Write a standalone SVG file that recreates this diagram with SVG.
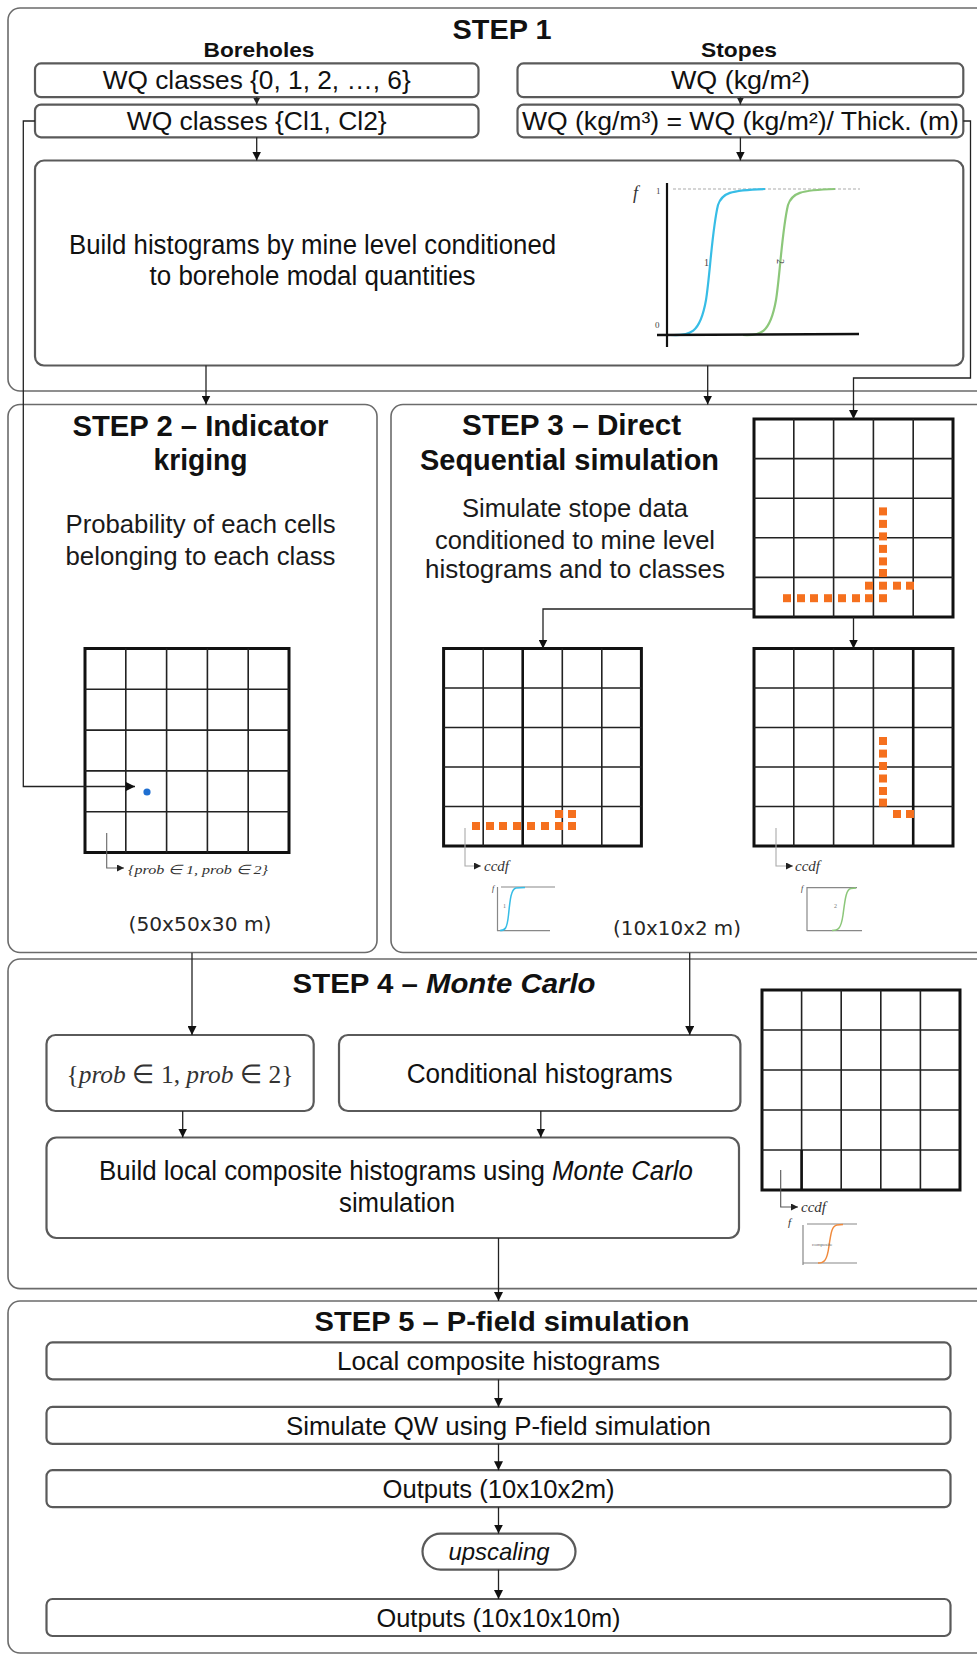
<svg xmlns="http://www.w3.org/2000/svg" width="977" height="1657" viewBox="0 0 977 1657">
<defs>
<marker id="ah" viewBox="0 0 10 10" refX="10" refY="5" markerWidth="9" markerHeight="9" markerUnits="userSpaceOnUse" orient="auto"><path d="M0,0 L10,5 L0,10 z" fill="#111"/></marker>
<marker id="ahs" viewBox="0 0 10 10" refX="10" refY="5" markerWidth="7" markerHeight="7" markerUnits="userSpaceOnUse" orient="auto"><path d="M0,0 L10,5 L0,10 z" fill="#222"/></marker>
</defs>
<style>
.outer{fill:none;stroke:#6b6b6b;stroke-width:1.6}
.box{fill:#fff;stroke:#5a5a5a;stroke-width:2.2}
.con{fill:none;stroke:#222;stroke-width:1.3}
.n{font-family:"Liberation Sans Narrow","Liberation Sans",Arial,sans-serif;fill:#111;text-anchor:middle}
.ns{font-family:"Liberation Sans Narrow","Liberation Sans",Arial,sans-serif;fill:#111;text-anchor:start}
.nb{font-family:"Liberation Sans Narrow","Liberation Sans",Arial,sans-serif;font-weight:bold;fill:#111;text-anchor:middle}
.nbs{font-family:"Liberation Sans Narrow","Liberation Sans",Arial,sans-serif;font-weight:bold;fill:#111;text-anchor:start}
.r{font-family:"Liberation Sans",Arial,sans-serif;fill:#1a1a1a;text-anchor:middle}
.rb{font-family:"Liberation Sans",Arial,sans-serif;font-weight:bold;fill:#111;text-anchor:middle}
.sm{font-family:"Liberation Serif","Times New Roman",serif;font-style:italic;fill:#333}
.gridO{fill:#fff;stroke:#111;stroke-width:3}
.gridI{fill:none;stroke:#222;stroke-width:1.6}
.o{fill:#f5701e}
.ax{fill:none;stroke:#888;stroke-width:1.2}
.dim{font-family:"DejaVu Sans",Verdana,sans-serif;fill:#262626;text-anchor:middle}
</style>
<rect width="977" height="1657" fill="#fff"/>

<!-- containers -->
<g id="step1">
<rect class="outer" x="8" y="8" width="1000" height="383" rx="12"/>
<text class="nb" x="502" y="39" font-size="28" textLength="99" lengthAdjust="spacingAndGlyphs">STEP 1</text>
<text class="nb" x="259" y="57" font-size="21" textLength="111" lengthAdjust="spacingAndGlyphs">Boreholes</text>
<text class="nb" x="739" y="57" font-size="21" textLength="76" lengthAdjust="spacingAndGlyphs">Stopes</text>
</g>
<g id="step2">
<rect class="outer" x="8" y="404.5" width="369" height="548" rx="12"/>
<text class="rb" x="200.5" y="436" font-size="29" textLength="256" lengthAdjust="spacingAndGlyphs">STEP 2 – Indicator</text>
<text class="rb" x="200.5" y="470" font-size="29" textLength="94" lengthAdjust="spacingAndGlyphs">kriging</text>
<text class="r" x="200.5" y="533" font-size="26" textLength="270" lengthAdjust="spacingAndGlyphs">Probability of each cells</text>
<text class="r" x="200.5" y="565" font-size="26" textLength="270" lengthAdjust="spacingAndGlyphs">belonging to each class</text>
<text class="dim" x="200" y="931" font-size="20" textLength="143" lengthAdjust="spacingAndGlyphs">(50x50x30 m)</text>
</g>
<g id="step3">
<rect class="outer" x="391" y="404.5" width="620" height="548" rx="12"/>
<text class="rb" x="571.6" y="435" font-size="29" textLength="219" lengthAdjust="spacingAndGlyphs">STEP 3 – Direct</text>
<text class="rb" x="569.5" y="470" font-size="29" textLength="299" lengthAdjust="spacingAndGlyphs">Sequential simulation</text>
<text class="r" x="575" y="517" font-size="26" textLength="226" lengthAdjust="spacingAndGlyphs">Simulate stope data</text>
<text class="r" x="575" y="549" font-size="26" textLength="280" lengthAdjust="spacingAndGlyphs">conditioned to mine level</text>
<text class="r" x="575" y="578" font-size="26" textLength="300" lengthAdjust="spacingAndGlyphs">histograms and to classes</text>
<text class="dim" x="677" y="935" font-size="20" textLength="128" lengthAdjust="spacingAndGlyphs">(10x10x2 m)</text>
</g>
<g id="step4">
<rect class="outer" x="8" y="959" width="1000" height="329.6" rx="12"/>
<text class="nbs" x="292.5" y="993" font-size="28" textLength="125.5" lengthAdjust="spacingAndGlyphs">STEP 4 –</text>
<text class="nbs" x="426" y="993" font-size="28" font-style="italic" textLength="169.5" lengthAdjust="spacingAndGlyphs">Monte Carlo</text>
</g>
<g id="step5">
<rect class="outer" x="8" y="1301" width="1000" height="352" rx="12"/>
<text class="nb" x="502" y="1331" font-size="28" textLength="375" lengthAdjust="spacingAndGlyphs">STEP 5 – P-field simulation</text>
</g>

<!-- step 1 nodes -->
<g id="wq-classes-06">
<rect class="box" x="35" y="63.4" width="443.5" height="33.8" rx="6"/>
<text class="n" x="256.7" y="89.3" font-size="25" textLength="308" lengthAdjust="spacingAndGlyphs">WQ classes {0, 1, 2, …, 6}</text>
</g>
<g id="wq-classes-cl">
<rect class="box" x="35" y="104.6" width="443.5" height="32.7" rx="6"/>
<text class="n" x="256.7" y="130" font-size="25" textLength="260" lengthAdjust="spacingAndGlyphs">WQ classes {Cl1, Cl2}</text>
</g>
<g id="wq-kgm2">
<rect class="box" x="517.5" y="63.4" width="445.8" height="33.8" rx="6"/>
<text class="n" x="740.4" y="89.3" font-size="25" textLength="139" lengthAdjust="spacingAndGlyphs">WQ (kg/m²)</text>
</g>
<g id="wq-kgm3">
<rect class="box" x="517.5" y="104.6" width="445.8" height="32.7" rx="6"/>
<text class="n" x="740.4" y="130" font-size="25" textLength="437" lengthAdjust="spacingAndGlyphs">WQ (kg/m³) = WQ (kg/m²)/ Thick. (m)</text>
</g>
<g id="build-histograms">
<rect class="box" x="35" y="160.5" width="928.3" height="205" rx="9"/>
<text class="n" x="312.6" y="253.5" font-size="27" textLength="487" lengthAdjust="spacingAndGlyphs">Build histograms by mine level conditioned</text>
<text class="n" x="312.6" y="285" font-size="27" textLength="326" lengthAdjust="spacingAndGlyphs">to borehole modal quantities</text>
<line x1="673" y1="189" x2="860" y2="189" stroke="#c8c8c8" stroke-width="1.5" stroke-dasharray="3 2"/>
<path d="M670,335 C690,336 700,334 706,300 C710,275 712,230 718,205 C722,193 730,190 765,189" fill="none" stroke="#37bde6" stroke-width="2.2"/>
<path d="M743,335 C760,336 770,334 776,300 C780,275 782,230 788,205 C792,193 800,190 835,189" fill="none" stroke="#8cc77a" stroke-width="2.2"/>
<line x1="667" y1="183" x2="667" y2="347" stroke="#111" stroke-width="2.2"/>
<line x1="657" y1="335" x2="859" y2="334" stroke="#111" stroke-width="2.6"/>
<text class="sm" x="633" y="199" font-size="18" fill="#222">f</text>
<text x="656" y="194" font-family="Liberation Serif,serif" font-size="9" fill="#444">1</text>
<text x="655" y="328" font-family="Liberation Serif,serif" font-size="9" fill="#444">0</text>
<text x="704" y="266" font-family="Liberation Serif,serif" font-size="10" fill="#444">1</text>
<text x="774" y="262" font-family="Liberation Serif,serif" font-size="10" fill="#444" transform="rotate(90 777 262)">2</text>
</g>

<!-- step 2 grid -->
<g id="ik-grid">
<rect class="gridO" x="85" y="648.5" width="204" height="204"/>
<path class="gridI" d="M125.8,648.5V852.5M166.6,648.5V852.5M207.4,648.5V852.5M248.2,648.5V852.5M85,689.3H289M85,730.1H289M85,770.9H289M85,811.7H289"/>
<circle cx="147" cy="792" r="3.6" fill="#1f6fd1"/>
<path d="M106.7,833 V868 H124" fill="none" stroke="#666" stroke-width="1.1" marker-end="url(#ahs)"/>
<text class="sm" x="128" y="874" font-size="13" fill="#555" textLength="140" lengthAdjust="spacingAndGlyphs">{prob ∈ 1, prob ∈ 2}</text>
</g>

<!-- step 3 grids -->
<g id="dss-grid-stopes">
<rect class="gridO" x="754" y="419" width="199" height="198"/>
<path class="gridI" d="M793.8,419V617M833.6,419V617M873.4,419V617M913.2,419V617M754,458.6H953M754,498.2H953M754,537.8H953M754,577.4H953"/>
<g class="o">
<rect x="879" y="507.4" width="8" height="8"/><rect x="879" y="519.9" width="8" height="8"/><rect x="879" y="532.4" width="8" height="8"/><rect x="879" y="544.9" width="8" height="8"/><rect x="879" y="557.4" width="8" height="8"/><rect x="879" y="569" width="8" height="8"/>
<rect x="865" y="581.7" width="8" height="8"/><rect x="879" y="581.7" width="8" height="8"/><rect x="893" y="581.7" width="8" height="8"/><rect x="906" y="581.7" width="8" height="8"/>
<rect x="783" y="594.2" width="8" height="8"/><rect x="797" y="594.2" width="8" height="8"/><rect x="810" y="594.2" width="8" height="8"/><rect x="824" y="594.2" width="8" height="8"/><rect x="838" y="594.2" width="8" height="8"/><rect x="852" y="594.2" width="8" height="8"/><rect x="865" y="594.2" width="8" height="8"/><rect x="879" y="594.2" width="8" height="8"/>
</g>
</g>
<g id="dss-grid-class1">
<rect class="gridO" x="443.6" y="648.5" width="197.8" height="197.5"/>
<path class="gridI" d="M483.2,648.5V846M562.3,648.5V846M601.8,648.5V846M443.6,688H641.4M443.6,727.5H641.4M443.6,767H641.4M443.6,806.5H641.4"/>
<line x1="522.7" y1="648.5" x2="522.7" y2="846" stroke="#111" stroke-width="2.6"/>
<g class="o">
<rect x="472" y="822" width="8" height="8"/><rect x="486" y="822" width="8" height="8"/><rect x="499" y="822" width="8" height="8"/><rect x="513" y="822" width="8" height="8"/><rect x="527" y="822" width="8" height="8"/><rect x="541" y="822" width="8" height="8"/><rect x="555" y="822" width="8" height="8"/><rect x="568" y="822" width="8" height="8"/>
<rect x="555" y="810" width="8" height="8"/><rect x="568" y="810" width="8" height="8"/>
</g>
<path d="M465,828 V866 H481" fill="none" stroke="#aaa" stroke-width="1.1" marker-end="url(#ahs)"/>
<text class="sm" x="484" y="871" font-size="15" fill="#333">ccdf</text>
<text class="sm" x="492" y="891" font-size="8" fill="#666">f</text>
<line class="ax" x1="501" y1="887" x2="555" y2="887" stroke="#ddd"/>
<line class="ax" x1="497.5" y1="887" x2="497.5" y2="931"/>
<line class="ax" x1="497" y1="930.7" x2="550" y2="930.7"/>
<path d="M500,930.5 C505,930.5 507,929 508.5,915 C510,900 511,889 516,888 L525,887.5" fill="none" stroke="#37bde6" stroke-width="1.5"/>
<text x="503" y="908" font-family="Liberation Serif,serif" font-size="6" fill="#777">1</text>
</g>
<g id="dss-grid-class2">
<rect class="gridO" x="754" y="648.5" width="199" height="197.5"/>
<path class="gridI" d="M793.8,648.5V846M833.6,648.5V846M873.4,648.5V846M754,688H953M754,727.5H953M754,767H953M754,806.5H953"/>
<line x1="913.2" y1="648.5" x2="913.2" y2="846" stroke="#111" stroke-width="2.6"/>
<g class="o">
<rect x="879" y="737" width="8" height="8"/><rect x="879" y="749.6" width="8" height="8"/><rect x="879" y="762" width="8" height="8"/><rect x="879" y="774.5" width="8" height="8"/><rect x="879" y="787" width="8" height="8"/><rect x="879" y="798.6" width="8" height="8"/>
<rect x="893" y="810" width="8" height="8"/><rect x="906" y="810" width="8" height="8"/>
</g>
<path d="M776,828 V866 H793" fill="none" stroke="#aaa" stroke-width="1.1" marker-end="url(#ahs)"/>
<text class="sm" x="795" y="871" font-size="15" fill="#333">ccdf</text>
<text class="sm" x="801" y="891" font-size="8" fill="#666">f</text>
<line class="ax" x1="807" y1="887.7" x2="857" y2="887.7" stroke="#ddd"/>
<line class="ax" x1="807" y1="887" x2="807" y2="931"/>
<line class="ax" x1="807" y1="930.7" x2="862" y2="930.7"/>
<path d="M832,930.5 C838,930.5 841,929 843,915 C845,900 846,889 851,888.5 L856,888" fill="none" stroke="#8cc77a" stroke-width="1.5"/>
<text x="834" y="908" font-family="Liberation Serif,serif" font-size="6" fill="#777">2</text>
</g>

<!-- step 4 nodes -->
<g id="prob-set">
<rect class="box" x="46.5" y="1035" width="267.2" height="76" rx="9"/>
<text x="180" y="1083" font-family="Liberation Serif,'Times New Roman',serif" font-size="26" fill="#333" text-anchor="middle" textLength="227" lengthAdjust="spacingAndGlyphs">{<tspan font-style="italic">prob</tspan> ∈ 1, <tspan font-style="italic">prob</tspan> ∈ 2}</text>
</g>
<g id="conditional-histograms">
<rect class="box" x="339" y="1035" width="401.4" height="76" rx="9"/>
<text class="n" x="539.7" y="1083" font-size="27" textLength="266" lengthAdjust="spacingAndGlyphs">Conditional histograms</text>
</g>
<g id="build-local">
<rect class="box" x="46.5" y="1137.5" width="692.5" height="100.5" rx="10"/>
<text class="ns" x="99" y="1180" font-size="27" textLength="446" lengthAdjust="spacingAndGlyphs">Build local composite histograms using</text>
<text class="ns" x="552" y="1180" font-size="27" font-style="italic" textLength="141" lengthAdjust="spacingAndGlyphs">Monte Carlo</text>
<text class="n" x="397" y="1212" font-size="27" textLength="116" lengthAdjust="spacingAndGlyphs">simulation</text>
</g>
<g id="mc-grid">
<rect class="gridO" x="762" y="990" width="198" height="200"/>
<path class="gridI" d="M801.6,990V1190M841.2,990V1190M880.8,990V1190M920.4,990V1190M762,1030H960M762,1070H960M762,1110H960M762,1150H960"/>
<line x1="801.6" y1="1150" x2="801.6" y2="1190" stroke="#111" stroke-width="2.6"/>
<path d="M780.7,1170 V1207 H798" fill="none" stroke="#555" stroke-width="1.1" marker-end="url(#ahs)"/>
<text class="sm" x="801" y="1212" font-size="15" fill="#333">ccdf</text>
<text class="sm" x="788" y="1226" font-size="11" fill="#444">f</text>
<line class="ax" x1="807" y1="1224" x2="857" y2="1224" stroke="#ddd"/>
<line class="ax" x1="803" y1="1225" x2="803" y2="1265"/>
<line class="ax" x1="803" y1="1263" x2="857" y2="1263"/>
<path d="M818,1263 C824,1263 827,1261 829,1246 C831,1232 832,1226 837,1225 L843,1224.5" fill="none" stroke="#f08a3c" stroke-width="1.5"/>
<text x="812" y="1246" font-family="Liberation Serif,serif" font-size="5" fill="#666">composite</text>
</g>

<!-- step 5 nodes -->
<g id="local-composite">
<rect class="box" x="46.5" y="1342.4" width="904" height="37" rx="6"/>
<text class="n" x="498.5" y="1370" font-size="25" textLength="323" lengthAdjust="spacingAndGlyphs">Local composite histograms</text>
</g>
<g id="simulate-qw">
<rect class="box" x="46.5" y="1406.9" width="904" height="37" rx="6"/>
<text class="n" x="498.5" y="1434.5" font-size="25" textLength="425" lengthAdjust="spacingAndGlyphs">Simulate QW using P-field simulation</text>
</g>
<g id="outputs-2m">
<rect class="box" x="46.5" y="1470.2" width="904" height="37" rx="6"/>
<text class="n" x="498.5" y="1498" font-size="25" textLength="232" lengthAdjust="spacingAndGlyphs">Outputs (10x10x2m)</text>
</g>
<g id="upscaling">
<rect class="box" x="422.5" y="1533.6" width="153" height="36" rx="18"/>
<text class="n" x="499" y="1560" font-size="24" font-style="italic" fill="#333" textLength="101" lengthAdjust="spacingAndGlyphs">upscaling</text>
</g>
<g id="outputs-10m">
<rect class="box" x="46.5" y="1599" width="904" height="37" rx="6"/>
<text class="n" x="498.5" y="1626.5" font-size="25" textLength="244" lengthAdjust="spacingAndGlyphs">Outputs (10x10x10m)</text>
</g>

<!-- connectors -->
<g id="connectors" class="con">
<line x1="256.7" y1="97.2" x2="256.7" y2="104.6" marker-end="url(#ahs)"/>
<line x1="740.4" y1="97.2" x2="740.4" y2="104.6" marker-end="url(#ahs)"/>
<line x1="256.7" y1="137.3" x2="256.7" y2="160.5" marker-end="url(#ah)"/>
<line x1="740.4" y1="137.3" x2="740.4" y2="160.5" marker-end="url(#ah)"/>
<line x1="206" y1="365.5" x2="206" y2="404.5" marker-end="url(#ah)"/>
<line x1="707.7" y1="365.5" x2="707.7" y2="404.5" marker-end="url(#ah)"/>
<path d="M963.3,121 H970.5 V378 H853.5 V419" marker-end="url(#ah)"/>
<path d="M35,121 H23.3 V786.5 H135" marker-end="url(#ah)"/>
<path d="M754,609 H543 V648.5" marker-end="url(#ah)"/>
<line x1="853.5" y1="617" x2="853.5" y2="648.5" marker-end="url(#ah)"/>
<line x1="192" y1="952.7" x2="192" y2="1035" marker-end="url(#ah)"/>
<line x1="689.7" y1="952.7" x2="689.7" y2="1035" marker-end="url(#ah)"/>
<line x1="182.7" y1="1111" x2="182.7" y2="1137.5" marker-end="url(#ah)"/>
<line x1="540.8" y1="1111" x2="540.8" y2="1137.5" marker-end="url(#ah)"/>
<line x1="498.5" y1="1238" x2="498.5" y2="1301" marker-end="url(#ah)"/>
<line x1="498.5" y1="1379.4" x2="498.5" y2="1406.9" marker-end="url(#ah)"/>
<line x1="498.5" y1="1443.9" x2="498.5" y2="1470.2" marker-end="url(#ah)"/>
<line x1="498.5" y1="1507.2" x2="498.5" y2="1533.6" marker-end="url(#ah)"/>
<line x1="498.5" y1="1569.6" x2="498.5" y2="1599" marker-end="url(#ah)"/>
</g>
</svg>
